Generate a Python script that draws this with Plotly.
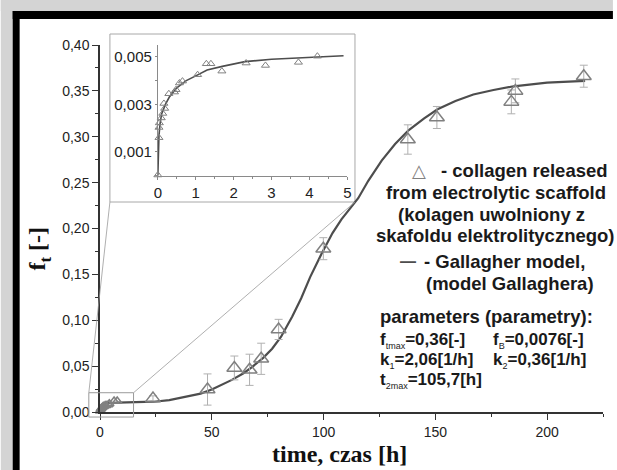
import plotly.graph_objects as go

# ---------------- data ----------------
# Gallagher model curve (main panel)
curve_t = [0, 0.5, 1, 2, 4, 8, 15, 24, 31, 38.5, 45, 50, 55, 59, 64, 68, 73, 77, 81, 86, 90,
           94, 99, 104, 108, 115.5, 120, 126, 132, 138, 145, 151, 159, 167, 176, 185, 200, 217]
curve_f = [0, 0.005, 0.0075, 0.009, 0.0098, 0.0102, 0.0107, 0.0112, 0.013, 0.0164, 0.020,
           0.0245, 0.030, 0.035, 0.042, 0.049, 0.059, 0.069, 0.082, 0.104, 0.124, 0.147, 0.172,
           0.195, 0.210, 0.233, 0.252, 0.274, 0.292, 0.307, 0.320, 0.330, 0.339, 0.346, 0.351,
           0.355, 0.359, 0.361]

# measured points with error bars (main panel)
main_t = [23.7, 48.1, 60.1, 66.9, 72.1, 79.9, 99.9, 137.7, 150.7, 184.0, 185.8, 216.4]
main_f = [0.0146, 0.0245, 0.048, 0.046, 0.058, 0.090, 0.178, 0.297, 0.321, 0.338, 0.350, 0.366]
main_err = [0.003, 0.017, 0.013, 0.017, 0.017, 0.011, 0.012, 0.016, 0.012, 0.013, 0.013, 0.012]

# early points in the main panel (small cluster near the origin)
cluster_t = [0, 0.3, 0.6, 1.0, 1.4, 1.7, 2.3, 2.8, 3.7, 4.2, 6.3, 7.7]
cluster_f = [0.001, 0.003, 0.004, 0.005, 0.006, 0.006, 0.007, 0.007, 0.008, 0.009, 0.012, 0.012]

# inset points
inset_t = [0, 0.03, 0.03, 0.04, 0.09, 0.13, 0.18, 0.16, 0.29, 0.44, 0.48, 0.57, 0.65, 1.05,
           1.28, 1.40, 1.69, 2.33, 2.84, 3.71, 4.21]
inset_f = [0.00003, 0.0016, 0.00203, 0.00222, 0.00243, 0.00262, 0.00283, 0.00304, 0.00345,
           0.00352, 0.00362, 0.0039, 0.00398, 0.00425, 0.00471, 0.00471, 0.0044, 0.00474,
           0.00464, 0.00477, 0.00503]

# inset model curve
inset_curve_t = [0, 0.005, 0.01, 0.03, 0.06, 0.1, 0.2, 0.3, 0.5, 0.75, 1.0, 1.3, 1.7, 2.3, 3.0, 4.0, 4.9]
inset_curve_f = [0, 0.0008, 0.0011, 0.0017, 0.0022, 0.0026, 0.0030, 0.0033, 0.0037, 0.0040,
                 0.0042, 0.00445, 0.0046, 0.0048, 0.0049, 0.00498, 0.00505]

# region of the main panel that is magnified in the inset
zoom_t = [-5, 15]
zoom_f = [-0.0055, 0.021]

x_range = [0, 225]
y_range = [0, 0.40]
inset_x_range = [0, 5]
inset_y_range = [0, 0.0055]

# ---------------- layout helpers ----------------
W, H = 617, 470
ML, MR, MT, MB = 100, 10, 45, 58
PW = W - ML - MR
PH = H - MT - MB


def pxx(x):
    return (x - ML) / PW


def pxy(y):
    return (H - MB - y) / PH


def dx(v):
    return (v - x_range[0]) / (x_range[1] - x_range[0])


def dy(v):
    return (v - y_range[0]) / (y_range[1] - y_range[0])


CURVE = '#4d4d4d'
PTS = '#808080'
ERR = '#b0b0b0'
AX = '#333333'
TXT = '#222222'
PAGE = '#d4d4d4'

fig = go.Figure()

fig.add_trace(go.Scatter(x=curve_t, y=curve_f, mode='lines',
                         line=dict(color=CURVE, width=2.2), cliponaxis=False, showlegend=False))
fig.add_trace(go.Scatter(x=cluster_t, y=cluster_f, mode='markers',
                         marker=dict(symbol='triangle-up-open', size=8, color=PTS, line=dict(width=1.5)),
                         cliponaxis=False, showlegend=False))
fig.add_trace(go.Scatter(x=main_t, y=main_f, mode='markers',
                         marker=dict(symbol='triangle-up-open', size=13, color=PTS, line=dict(width=1.5)),
                         error_y=dict(type='data', array=main_err, color=ERR, thickness=1, width=4),
                         cliponaxis=False, showlegend=False))

fig.add_trace(go.Scatter(x=inset_curve_t, y=inset_curve_f, mode='lines', xaxis='x2', yaxis='y2',
                         line=dict(color=CURVE, width=1.6), cliponaxis=False, showlegend=False))
fig.add_trace(go.Scatter(x=inset_t, y=inset_f, mode='markers', xaxis='x2', yaxis='y2',
                         marker=dict(symbol='triangle-up-open', size=7, color=PTS, line=dict(width=1)),
                         cliponaxis=False, showlegend=False))

shapes = []
# page frame: grey page edge and black border strips along the top and left
for (a, b, c, d, col) in [(0, W, 0, 11, PAGE), (0, 12, 0, H, PAGE),
                          (12, W, 11, 19, '#000000'), (12, 19, 11, H, '#000000')]:
    shapes.append(dict(type='rect', xref='paper', yref='paper', layer='below',
                       x0=pxx(a), x1=pxx(b), y0=pxy(d), y1=pxy(c),
                       fillcolor=col, line=dict(width=0)))

# inset frame
ib = dict(x0=pxx(110), x1=pxx(357), y0=pxy(202), y1=pxy(34))
shapes.append(dict(type='rect', xref='paper', yref='paper', layer='below',
                   x0=ib['x0'], x1=ib['x1'], y0=ib['y0'], y1=ib['y1'],
                   fillcolor='rgba(0,0,0,0)', line=dict(color='#a8a8a8', width=1)))
# magnified region box
zx0, zx1 = dx(zoom_t[0]), dx(zoom_t[1])
zy0, zy1 = dy(zoom_f[0]), dy(zoom_f[1])
shapes.append(dict(type='rect', xref='paper', yref='paper', layer='above',
                   x0=zx0, x1=zx1, y0=zy0, y1=zy1,
                   line=dict(color='#9a9a9a', width=1)))
# connector lines
shapes.append(dict(type='line', xref='paper', yref='paper', layer='above',
                   x0=zx0, y0=zy1, x1=ib['x0'], y1=ib['y0'], line=dict(color='#9a9a9a', width=0.8)))
shapes.append(dict(type='line', xref='paper', yref='paper', layer='above',
                   x0=zx1, y0=zy1, x1=ib['x1'], y1=ib['y0'], line=dict(color='#9a9a9a', width=0.8)))

annotations = []
LEG = dict(family='Liberation Sans, Arial, sans-serif', size=18.5, color='#1a1a1a')
PAR = dict(family='Liberation Sans, Arial, sans-serif', size=17, color='#1a1a1a')


def note(text, x, y, anchor='left', font=LEG):
    annotations.append(dict(text=text, x=pxx(x), y=pxy(y), xref='paper', yref='paper',
                            xanchor=anchor, yanchor='middle', showarrow=False, font=font))


def sub(s):
    return "<sub><span style='font-size:9px;font-weight:normal'>" + s + "</span></sub>"


note('△', 421.7, 170, 'center', dict(family='DejaVu Sans', size=18, color=PTS))
note('<b>- collagen released</b>', 442, 170)
note('<b>from electrolytic scaffold</b>', 386, 192.7)
note('<b>(kolagen uwolniony z</b>', 398, 214)
note('<b>skafoldu elektrolitycznego)</b>', 376, 235)
note('<b>—</b>', 410, 261.7, 'center', dict(family='Liberation Sans', size=16, color=CURVE))
note('<b>- Gallagher model,</b>', 425, 261.7)
note('<b>(model Gallaghera)</b>', 426.5, 283.3)
note('<b>parameters (parametry):</b>', 380, 316)
note('<b>f' + sub('tmax') + '=0,36[-]</b>', 380.5, 340, font=PAR)
note('<b>f' + sub('B') + '=0,0076[-]</b>', 494.5, 340, font=PAR)
note('<b>k' + sub('1') + '=2,06[1/h]</b>', 380.5, 360, font=PAR)
note('<b>k' + sub('2') + '=0,36[1/h]</b>', 494.5, 360, font=PAR)
note('<b>t' + sub('2max') + '=105,7[h]</b>', 380.5, 380, font=PAR)

TITLE = dict(family='Liberation Serif, Times New Roman, serif', size=24, color='#111111')
note('<b>time, czas [h]</b>', 341, 454, 'center', TITLE)
annotations.append(dict(text='<b>f<sub>t</sub> [-]</b>', x=pxx(39), y=pxy(248), xref='paper', yref='paper',
                        xanchor='center', yanchor='middle', textangle=-90, showarrow=False, font=TITLE))

TICK = dict(family='Liberation Sans, Arial, sans-serif', size=14, color=TXT)
TICK2 = dict(family='Liberation Sans, Arial, sans-serif', size=15, color=TXT)

fig.update_layout(
    width=W, height=H,
    margin=dict(l=ML, r=MR, t=MT, b=MB, pad=0),
    paper_bgcolor='#ffffff', plot_bgcolor='rgba(0,0,0,0)',
    separators=', ',
    showlegend=False,
    shapes=shapes, annotations=annotations,
    xaxis=dict(range=x_range, showline=True, linecolor=AX, linewidth=1.5, showgrid=False, zeroline=False,
               ticks='outside', ticklen=6, tickwidth=1.3, tickcolor=AX, dtick=50, tick0=0,
               tickfont=TICK, minor=dict(dtick=25, ticks='outside', ticklen=3, tickcolor=AX)),
    yaxis=dict(range=y_range, showline=True, linecolor=AX, linewidth=1.5, showgrid=False, zeroline=False,
               ticks='outside', ticklen=6, tickwidth=1.3, tickcolor=AX, dtick=0.05, tick0=0,
               tickformat='.2f', tickfont=TICK,
               minor=dict(dtick=0.025, ticks='outside', ticklen=3, tickcolor=AX)),
    xaxis2=dict(domain=[pxx(158.3), pxx(349.3)], anchor='y2', range=inset_x_range,
                showline=True, linecolor='#8a8a8a', linewidth=1, showgrid=False, zeroline=False,
                ticks='outside', ticklen=3, tickcolor='#8a8a8a', dtick=1, tick0=0, tickfont=TICK2,
                minor=dict(dtick=0.5, ticks='outside', ticklen=2, tickcolor='#8a8a8a')),
    yaxis2=dict(domain=[pxy(175.7), 1.0], anchor='x2', range=inset_y_range,
                showline=True, linecolor='#8a8a8a', linewidth=1, showgrid=False, zeroline=False,
                ticks='outside', ticklen=2, tickcolor='#8a8a8a', tick0=0.001, dtick=0.002,
                tickformat='.3f', tickfont=TICK2,
                minor=dict(dtick=0.001, ticks='outside', ticklen=2, tickcolor='#8a8a8a')),
)

fig.write_html('out.html')
